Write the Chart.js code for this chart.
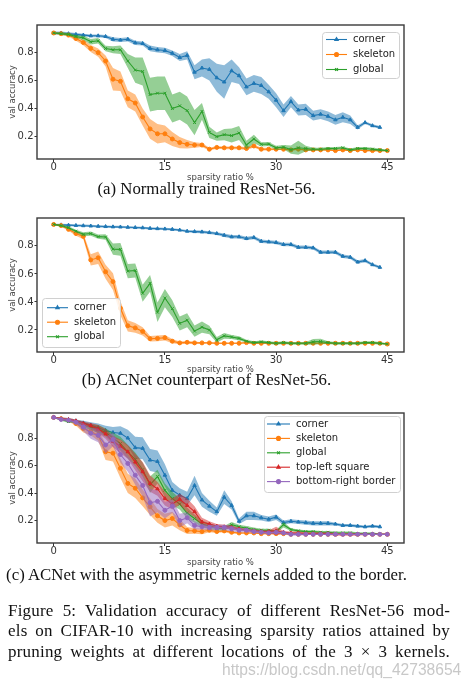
<!DOCTYPE html>
<html>
<head>
<meta charset="utf-8">
<script src="https://cdn.jsdelivr.net/npm/chart.js@4.4.1/dist/chart.umd.min.js"></script>
<style>
  body { margin: 0; background: #fff; width: 475px; height: 689px; overflow: hidden; position: relative; }
  canvas { position: absolute; left: 0; }
  .cap { position: absolute; left: 0; width: 413px; text-align: center; white-space: nowrap;
         font: 16.8px/18px "Liberation Serif", serif; color: #111; }
  .para { position: absolute; left: 8px; top: 601px; width: 442px;
          font: 17px/20.4px "Liberation Serif", serif; letter-spacing: 0.2px; color: #111; }
  .para div { text-align: justify; text-align-last: justify; }
  .wm { position: absolute; left: 222px; top: 661px; font: 15.6px/18px "Liberation Sans", sans-serif;
        color: #c8c8c8; white-space: nowrap; }
</style>
</head>
<body>
<canvas id="chartA"></canvas>
<canvas id="chartB"></canvas>
<canvas id="chartC"></canvas>

<div class="cap" style="top:180px">(a) Normally trained ResNet-56.</div>
<div class="cap" style="top:371px">(b) ACNet counterpart of ResNet-56.</div>
<div class="cap" style="top:566px">(c) ACNet with the asymmetric kernels added to the border.</div>

<div class="para">
  <div>Figure 5: Validation accuracy of different ResNet-56 mod-</div>
  <div>els on CIFAR-10 with increasing sparsity ratios attained by</div>
  <div>pruning weights at different locations of the 3 × 3 kernels.</div>
</div>
<div class="wm">https://blog.csdn.net/qq_42738654</div>

<script>
// sparsity ratio (%) of each pruning step
const sparsity = [0, 1, 2, 3, 4, 5, 6, 7, 8, 9, 10, 11, 12, 13, 14, 15, 16, 17, 18, 19, 20, 21, 22,
  23, 24, 25, 26, 27, 28, 29, 30, 31, 32, 33, 34, 35, 36, 37, 38, 39, 40, 41, 42, 43, 44, 45];
const ratioTicks = [0, 15, 30, 45];
const accTicks = [0.2, 0.4, 0.6, 0.8];

// (a) normally trained ResNet-56
const aCorner = [0.94, 0.94, 0.935, 0.93, 0.925, 0.92, 0.92, 0.915, 0.895, 0.89,
  0.895, 0.87, 0.865, 0.83, 0.82, 0.815, 0.795, 0.765, 0.78, 0.66,
  0.69, 0.68, 0.62, 0.59, 0.67, 0.635, 0.555, 0.58, 0.565, 0.52,
  0.46, 0.385, 0.45, 0.39, 0.395, 0.35, 0.36, 0.345, 0.32, 0.338,
  0.32, 0.266, 0.30, 0.278, 0.266];
const aCornerSpread = [0.01, 0.01, 0.01, 0.01, 0.01, 0.01, 0.01, 0.01, 0.015, 0.015,
  0.015, 0.015, 0.015, 0.02, 0.02, 0.02, 0.02, 0.025, 0.03, 0.05,
  0.06, 0.08, 0.10, 0.12, 0.08, 0.06, 0.06, 0.06, 0.06, 0.05,
  0.05, 0.045, 0.04, 0.04, 0.04, 0.035, 0.035, 0.035, 0.035, 0.035,
  0.03, 0.015, 0.01, 0.01, 0.01];
const aSkeleton = [0.94, 0.935, 0.925, 0.90, 0.872, 0.83, 0.80, 0.74, 0.61, 0.595,
  0.47, 0.44, 0.34, 0.255, 0.22, 0.22, 0.183, 0.157, 0.145, 0.14,
  0.14, 0.11, 0.123, 0.12, 0.12, 0.12, 0.115, 0.133, 0.11, 0.11,
  0.11, 0.11, 0.105, 0.11, 0.105, 0.105, 0.105, 0.105, 0.10, 0.105,
  0.10, 0.105, 0.10, 0.10, 0.10, 0.10];
const aSkeletonSpread = [0.005, 0.01, 0.01, 0.015, 0.02, 0.025, 0.03, 0.04, 0.08, 0.07,
  0.06, 0.06, 0.06, 0.07, 0.07, 0.06, 0.05, 0.04, 0.03, 0.02,
  0.015, 0.01, 0.01, 0.01, 0.01, 0.01, 0.01, 0.01, 0.01, 0.01,
  0.005, 0.005, 0.005, 0.005, 0.005, 0.005, 0.005, 0.005, 0.005, 0.005,
  0.005, 0.005, 0.005, 0.005, 0.005, 0.005];
const aGlobal = [0.94, 0.935, 0.93, 0.915, 0.905, 0.877, 0.884, 0.829, 0.82, 0.82,
  0.74, 0.675, 0.665, 0.50, 0.51, 0.51, 0.40, 0.42, 0.386, 0.30,
  0.38, 0.23, 0.20, 0.214, 0.207, 0.226, 0.14, 0.183, 0.145, 0.147,
  0.12, 0.125, 0.107, 0.12, 0.115, 0.11, 0.11, 0.115, 0.115, 0.12,
  0.105, 0.115, 0.115, 0.11, 0.105, 0.10];
const aGlobalSpread = [0.005, 0.01, 0.01, 0.01, 0.015, 0.02, 0.02, 0.02, 0.025, 0.03,
  0.05, 0.09, 0.10, 0.12, 0.12, 0.12, 0.10, 0.10, 0.10, 0.09,
  0.06, 0.04, 0.03, 0.04, 0.05, 0.05, 0.03, 0.03, 0.015, 0.015,
  0.015, 0.015, 0.03, 0.05, 0.02, 0.01, 0.01, 0.01, 0.01, 0.01,
  0.01, 0.01, 0.01, 0.01, 0.01, 0.005];

// (b) ACNet counterpart
const bCorner = [0.953, 0.95, 0.948, 0.946, 0.944, 0.942, 0.94, 0.938, 0.936, 0.935,
  0.933, 0.931, 0.929, 0.925, 0.923, 0.921, 0.918, 0.913, 0.905, 0.902,
  0.90, 0.895, 0.888, 0.876, 0.865, 0.865, 0.853, 0.86, 0.833, 0.829,
  0.824, 0.81, 0.81, 0.79, 0.79, 0.786, 0.755, 0.755, 0.755, 0.726,
  0.719, 0.685, 0.695, 0.666, 0.647];
const bCornerSpread = [0.005, 0.008, 0.008, 0.008, 0.008, 0.008, 0.008, 0.008, 0.008, 0.008,
  0.008, 0.008, 0.008, 0.008, 0.008, 0.008, 0.008, 0.008, 0.008, 0.01,
  0.01, 0.01, 0.01, 0.012, 0.012, 0.012, 0.012, 0.012, 0.012, 0.012,
  0.012, 0.012, 0.012, 0.012, 0.012, 0.012, 0.012, 0.012, 0.012, 0.012,
  0.012, 0.012, 0.012, 0.01, 0.01];
const bSkeleton = [0.953, 0.945, 0.918, 0.888, 0.868, 0.70, 0.715, 0.615, 0.545, 0.355,
  0.23, 0.215, 0.19, 0.138, 0.14, 0.145, 0.12, 0.108, 0.112, 0.108,
  0.108, 0.108, 0.105, 0.105, 0.105, 0.105, 0.11, 0.105, 0.105, 0.105,
  0.105, 0.105, 0.105, 0.105, 0.105, 0.105, 0.105, 0.105, 0.105, 0.105,
  0.105, 0.105, 0.105, 0.105, 0.105, 0.10];
const bSkeletonSpread = [0.005, 0.008, 0.01, 0.015, 0.02, 0.04, 0.045, 0.05, 0.06, 0.05,
  0.04, 0.035, 0.03, 0.02, 0.02, 0.02, 0.015, 0.01, 0.01, 0.01,
  0.005, 0.005, 0.005, 0.005, 0.005, 0.005, 0.005, 0.005, 0.005, 0.005,
  0.005, 0.005, 0.005, 0.005, 0.005, 0.005, 0.005, 0.005, 0.005, 0.005,
  0.005, 0.005, 0.005, 0.005, 0.005, 0.005];
const bGlobal = [0.953, 0.945, 0.93, 0.905, 0.883, 0.888, 0.866, 0.863, 0.777, 0.775,
  0.62, 0.624, 0.462, 0.533, 0.327, 0.428, 0.352, 0.247, 0.27, 0.192,
  0.22, 0.20, 0.13, 0.158, 0.15, 0.14, 0.12, 0.11, 0.115, 0.11,
  0.105, 0.11, 0.105, 0.105, 0.105, 0.115, 0.118, 0.11, 0.105, 0.105,
  0.105, 0.105, 0.11, 0.11, 0.105, 0.10];
const bGlobalSpread = [0.005, 0.008, 0.01, 0.01, 0.015, 0.015, 0.015, 0.02, 0.04, 0.045,
  0.05, 0.05, 0.06, 0.06, 0.07, 0.065, 0.06, 0.05, 0.05, 0.04,
  0.04, 0.03, 0.02, 0.02, 0.015, 0.015, 0.01, 0.01, 0.01, 0.01,
  0.01, 0.01, 0.01, 0.01, 0.01, 0.02, 0.02, 0.01, 0.01, 0.01,
  0.01, 0.01, 0.01, 0.01, 0.01, 0.005];

// (c) ACNet with asymmetric kernels added to the border
const cCorner = [0.95, 0.94, 0.935, 0.925, 0.91, 0.895, 0.875, 0.855, 0.84, 0.835,
  0.80, 0.73, 0.725, 0.64, 0.63, 0.53, 0.42, 0.385, 0.36, 0.455,
  0.35, 0.305, 0.265, 0.37, 0.31, 0.195, 0.235, 0.235, 0.22, 0.21,
  0.225, 0.185, 0.195, 0.19, 0.185, 0.18, 0.18, 0.18, 0.175, 0.165,
  0.165, 0.16, 0.155, 0.16, 0.155];
const cCornerSpread = [0.005, 0.01, 0.01, 0.01, 0.015, 0.02, 0.03, 0.035, 0.04, 0.05,
  0.06, 0.08, 0.08, 0.08, 0.08, 0.08, 0.06, 0.05, 0.05, 0.07,
  0.05, 0.04, 0.03, 0.05, 0.03, 0.02, 0.03, 0.03, 0.02, 0.02,
  0.02, 0.015, 0.015, 0.015, 0.015, 0.015, 0.015, 0.015, 0.01, 0.01,
  0.01, 0.01, 0.01, 0.01, 0.01];
const cSkeleton = [0.95, 0.94, 0.93, 0.905, 0.87, 0.85, 0.82, 0.70, 0.69, 0.58,
  0.47, 0.435, 0.365, 0.30, 0.235, 0.20, 0.215, 0.17, 0.128, 0.125,
  0.12, 0.13, 0.12, 0.125, 0.115, 0.11, 0.11, 0.11, 0.105, 0.105,
  0.105, 0.105, 0.10, 0.10, 0.10, 0.10, 0.10, 0.10, 0.10, 0.10,
  0.10, 0.10, 0.10, 0.10, 0.10, 0.10];
const cSkeletonSpread = [0.005, 0.01, 0.01, 0.015, 0.03, 0.03, 0.04, 0.06, 0.06, 0.07,
  0.07, 0.07, 0.06, 0.06, 0.05, 0.05, 0.05, 0.04, 0.025, 0.02,
  0.02, 0.015, 0.01, 0.01, 0.01, 0.005, 0.005, 0.005, 0.005, 0.005,
  0.005, 0.005, 0.005, 0.005, 0.005, 0.005, 0.005, 0.005, 0.005, 0.005,
  0.005, 0.005, 0.005, 0.005, 0.005, 0.005];
const cGlobal = [0.95, 0.935, 0.92, 0.92, 0.895, 0.88, 0.865, 0.84, 0.80, 0.76,
  0.70, 0.645, 0.57, 0.46, 0.52, 0.42, 0.36, 0.32, 0.255, 0.215,
  0.175, 0.16, 0.145, 0.145, 0.17, 0.155, 0.145, 0.135, 0.13, 0.13,
  0.12, 0.17, 0.135, 0.125, 0.12, 0.12, 0.115, 0.115, 0.11, 0.11,
  0.11, 0.105, 0.105, 0.105, 0.10, 0.10];
const cGlobalSpread = [0.005, 0.01, 0.01, 0.01, 0.02, 0.02, 0.03, 0.03, 0.04, 0.05,
  0.05, 0.05, 0.05, 0.06, 0.05, 0.05, 0.05, 0.04, 0.04, 0.03,
  0.025, 0.02, 0.015, 0.015, 0.02, 0.015, 0.015, 0.015, 0.01, 0.01,
  0.01, 0.02, 0.01, 0.01, 0.01, 0.01, 0.01, 0.01, 0.01, 0.01,
  0.01, 0.01, 0.01, 0.01, 0.005, 0.005];
const cTopLeft = [0.95, 0.94, 0.935, 0.925, 0.905, 0.89, 0.865, 0.83, 0.775, 0.74,
  0.70, 0.625, 0.555, 0.47, 0.43, 0.36, 0.32, 0.355, 0.31, 0.265,
  0.19, 0.175, 0.16, 0.155, 0.15, 0.14, 0.13, 0.125, 0.12, 0.12,
  0.125, 0.115, 0.11, 0.11, 0.105, 0.105, 0.105, 0.105, 0.10, 0.10,
  0.10, 0.10, 0.10, 0.10, 0.10, 0.10];
const cTopLeftSpread = [0.005, 0.01, 0.01, 0.01, 0.015, 0.02, 0.03, 0.035, 0.04, 0.05,
  0.05, 0.06, 0.07, 0.06, 0.05, 0.05, 0.04, 0.04, 0.05, 0.04,
  0.03, 0.02, 0.015, 0.015, 0.015, 0.01, 0.01, 0.01, 0.01, 0.01,
  0.03, 0.01, 0.01, 0.01, 0.01, 0.01, 0.01, 0.01, 0.01, 0.01,
  0.01, 0.01, 0.005, 0.005, 0.005, 0.005];
const cBottomRight = [0.95, 0.935, 0.93, 0.915, 0.88, 0.835, 0.82, 0.75, 0.79, 0.68,
  0.615, 0.53, 0.455, 0.33, 0.34, 0.275, 0.305, 0.20, 0.22, 0.165,
  0.155, 0.15, 0.15, 0.15, 0.14, 0.13, 0.13, 0.12, 0.115, 0.11,
  0.115, 0.11, 0.10, 0.10, 0.10, 0.10, 0.10, 0.10, 0.10, 0.10,
  0.10, 0.10, 0.10, 0.10, 0.10, 0.10];
const cBottomRightSpread = [0.005, 0.01, 0.01, 0.015, 0.03, 0.04, 0.05, 0.06, 0.05, 0.06,
  0.06, 0.07, 0.08, 0.10, 0.08, 0.06, 0.05, 0.05, 0.04, 0.03,
  0.02, 0.02, 0.02, 0.02, 0.02, 0.015, 0.015, 0.01, 0.01, 0.01,
  0.01, 0.01, 0.01, 0.01, 0.005, 0.005, 0.005, 0.005, 0.005, 0.005,
  0.005, 0.005, 0.005, 0.005, 0.005, 0.005];

const BLUE = '#1f77b4', ORANGE = '#ff7f0e', GREEN = '#2ca02c', RED = '#d62728', PURPLE = '#9467bd';

function fade(hex, a) {
  const n = parseInt(hex.slice(1), 16);
  return 'rgba(' + (n >> 16) + ',' + ((n >> 8) & 255) + ',' + (n & 255) + ',' + a + ')';
}

// mean line + shaded band for each series; later series are drawn on top
function buildDatasets(list) {
  const sets = [];
  const n = list.length;
  list.forEach((s, k) => {
    const xs = sparsity.slice(0, s.mean.length);
    const ord = 2 * (n - k);
    sets.push({
      band: true, order: ord + 1, fill: '+1',
      data: xs.map((x, i) => ({ x: x, y: s.mean[i] + s.spread[i] })),
      backgroundColor: fade(s.color, 0.5), borderColor: 'transparent', borderWidth: 0, pointRadius: 0
    });
    sets.push({
      band: true, order: ord + 1, fill: false,
      data: xs.map((x, i) => ({ x: x, y: s.mean[i] - s.spread[i] })),
      borderColor: 'transparent', borderWidth: 0, pointRadius: 0
    });
  });
  list.forEach((s, k) => {
    const xs = sparsity.slice(0, s.mean.length);
    sets.push({
      label: s.label, order: 2 * (n - k), fill: false,
      data: xs.map((x, i) => ({ x: x, y: s.mean[i] })),
      borderColor: s.color, backgroundColor: s.color, borderWidth: 1.1,
      pointStyle: s.marker, pointRadius: 2, pointBorderWidth: 1
    });
  });
  return sets;
}

const framePlugin = {
  id: 'frame',
  afterDatasetsDraw(chart) {
    const a = chart.chartArea, ctx = chart.ctx;
    ctx.save();
    ctx.strokeStyle = '#3a3a3a';
    ctx.lineWidth = 1.4;
    ctx.strokeRect(a.left, a.top, a.right - a.left, a.bottom - a.top);
    ctx.restore();
  }
};

const boxLegendPlugin = {
  id: 'boxLegend',
  afterDraw(chart, args, opts) {
    const ctx = chart.ctx;
    const items = chart.data.datasets.filter(d => !d.band);
    ctx.save();
    ctx.beginPath();
    ctx.roundRect(opts.x + 0.5, opts.y + 0.5, opts.w, opts.h, 3);
    ctx.fillStyle = 'rgba(255,255,255,0.85)';
    ctx.fill();
    ctx.strokeStyle = '#d0d0d0';
    ctx.lineWidth = 1;
    ctx.stroke();
    ctx.font = '10px "DejaVu Sans"';
    ctx.textBaseline = 'middle';
    items.forEach((d, i) => {
      const y = opts.row0 + i * opts.step;
      ctx.strokeStyle = d.borderColor;
      ctx.fillStyle = d.borderColor;
      ctx.lineWidth = 1.1;
      ctx.beginPath();
      ctx.moveTo(opts.s0, y);
      ctx.lineTo(opts.s1, y);
      ctx.stroke();
      Chart.helpers.drawPoint(ctx, { pointStyle: d.pointStyle, rotation: 0, radius: 2, borderWidth: 1 },
        (opts.s0 + opts.s1) / 2, y);
      ctx.fillStyle = '#222';
      ctx.fillText(d.label, opts.tx, y);
    });
    ctx.restore();
  }
};

function makeChart(id, top, height, frameTop, frameBottom, yMin, yMax, list, legend) {
  const cv = document.getElementById(id);
  cv.width = 475;
  cv.height = height;
  cv.style.top = top + 'px';
  const tickFont = { family: 'DejaVu Sans', size: 10, lineHeight: 1 };
  const titleFont = { family: 'DejaVu Sans', size: 8.5 };
  new Chart(cv, {
    type: 'line',
    data: { datasets: buildDatasets(list) },
    options: {
      responsive: false,
      animation: false,
      devicePixelRatio: 1,
      layout: { padding: { left: 0, right: 71, top: frameTop - top, bottom: 0 } },
      plugins: {
        legend: { display: false },
        tooltip: { enabled: false },
        boxLegend: {
          x: legend.x, y: legend.y - top, w: legend.w, h: legend.h,
          row0: legend.row0 - top, step: legend.step, s0: legend.s0, s1: legend.s1, tx: legend.tx
        }
      },
      scales: {
        x: {
          type: 'linear', min: -2.25, max: 47.25,
          afterBuildTicks: s => { s.ticks = ratioTicks.map(v => ({ value: v })); },
          afterFit: s => { s.height = top + height - frameBottom; },
          border: { display: false },
          grid: { drawOnChartArea: false, drawTicks: true, tickLength: 3, color: '#333' },
          ticks: { font: tickFont, color: '#333', padding: 0, maxRotation: 0, autoSkip: false },
          title: { display: true, text: 'sparsity ratio %', font: titleFont, color: '#444',
                   padding: { top: 0, bottom: 0 } }
        },
        y: {
          type: 'linear', min: yMin, max: yMax,
          afterBuildTicks: s => { s.ticks = accTicks.map(v => ({ value: v })); },
          afterFit: s => { s.width = 37; },
          border: { display: false },
          grid: { drawOnChartArea: false, drawTicks: true, tickLength: 2.5, color: '#333' },
          ticks: { font: tickFont, color: '#333', padding: 1, callback: v => v.toFixed(1) },
          title: { display: true, text: 'val accuracy', font: titleFont, color: '#444',
                   padding: { top: 8, bottom: 0 } }
        }
      }
    },
    plugins: [framePlugin, boxLegendPlugin]
  });
}

makeChart('chartA', 0, 183, 25, 159, 0.04, 0.997, [
  { label: 'corner', mean: aCorner, spread: aCornerSpread, color: BLUE, marker: 'triangle' },
  { label: 'skeleton', mean: aSkeleton, spread: aSkeletonSpread, color: ORANGE, marker: 'circle' },
  { label: 'global', mean: aGlobal, spread: aGlobalSpread, color: GREEN, marker: 'crossRot' }
], { x: 322, y: 32, w: 77, h: 46, row0: 39.5, step: 15, s0: 326, s1: 347, tx: 353 });

makeChart('chartB', 195, 180, 218, 352, 0.043, 0.999, [
  { label: 'corner', mean: bCorner, spread: bCornerSpread, color: BLUE, marker: 'triangle' },
  { label: 'skeleton', mean: bSkeleton, spread: bSkeletonSpread, color: ORANGE, marker: 'circle' },
  { label: 'global', mean: bGlobal, spread: bGlobalSpread, color: GREEN, marker: 'crossRot' }
], { x: 42, y: 298, w: 78, h: 49, row0: 307.7, step: 14.5, s0: 47, s1: 68, tx: 74 });

makeChart('chartC', 398, 170, 413, 543, 0.037, 0.982, [
  { label: 'corner', mean: cCorner, spread: cCornerSpread, color: BLUE, marker: 'triangle' },
  { label: 'skeleton', mean: cSkeleton, spread: cSkeletonSpread, color: ORANGE, marker: 'circle' },
  { label: 'global', mean: cGlobal, spread: cGlobalSpread, color: GREEN, marker: 'crossRot' },
  { label: 'top-left square', mean: cTopLeft, spread: cTopLeftSpread, color: RED, marker: 'triangle' },
  { label: 'bottom-right border', mean: cBottomRight, spread: cBottomRightSpread, color: PURPLE, marker: 'circle' }
], { x: 264, y: 416, w: 136, h: 76, row0: 424, step: 14.4, s0: 267, s1: 290, tx: 296 });
</script>
</body>
</html>
